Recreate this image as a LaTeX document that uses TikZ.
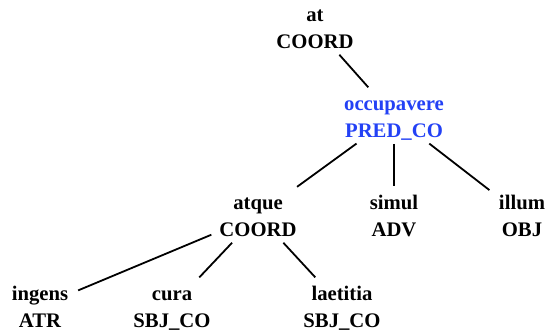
\documentclass[tikz,border=0pt]{standalone}
\usepackage{fontspec}
\setmainfont{Liberation Serif}
\definecolor{predblue}{RGB}{35,65,245}
\tikzset{word/.style={align=center, inner xsep=7pt, inner ysep=2pt, anchor=south, font=\fontsize{20.7}{27}\selectfont\bfseries},
pred/.style={word, text=predblue},
dep/.style={line width=1.8pt, shorten >=3pt, shorten <=1pt}}
\newcommand{\wl}[2]{\rule{0pt}{19pt}#1\\#2\rule[-3pt]{0pt}{3pt}}

\begin{document}
\begin{tikzpicture}[x=1pt,y=1pt]
\useasboundingbox (0,0) rectangle (555,336);
\node[word] (at) at (315,282) {\wl{at}{COORD}};
\node[pred] (occupavere) at (394,193) {\wl{occupavere}{PRED\_CO}};
\node[word] (atque) at (258,94) {\wl{atque}{COORD}};
\node[word] (simul) at (394,94) {\wl{simul}{ADV}};
\node[word] (illum) at (522,94) {\wl{illum}{OBJ}};
\node[word] (ingens) at (40,3) {\wl{ingens}{ATR}};
\node[word] (cura) at (172,3) {\wl{cura}{SBJ\_CO}};
\node[word] (laetitia) at (342,3) {\wl{laetitia}{SBJ\_CO}};
%
\draw[dep] (at) -- (occupavere);
\draw[dep] (occupavere) -- (atque);
\draw[dep] (occupavere) -- (simul);
\draw[dep] (occupavere) -- (illum);
\draw[dep] (atque) -- (ingens);
\draw[dep] (atque) -- (cura);
\draw[dep] (atque) -- (laetitia);
\end{tikzpicture}
\end{document}
